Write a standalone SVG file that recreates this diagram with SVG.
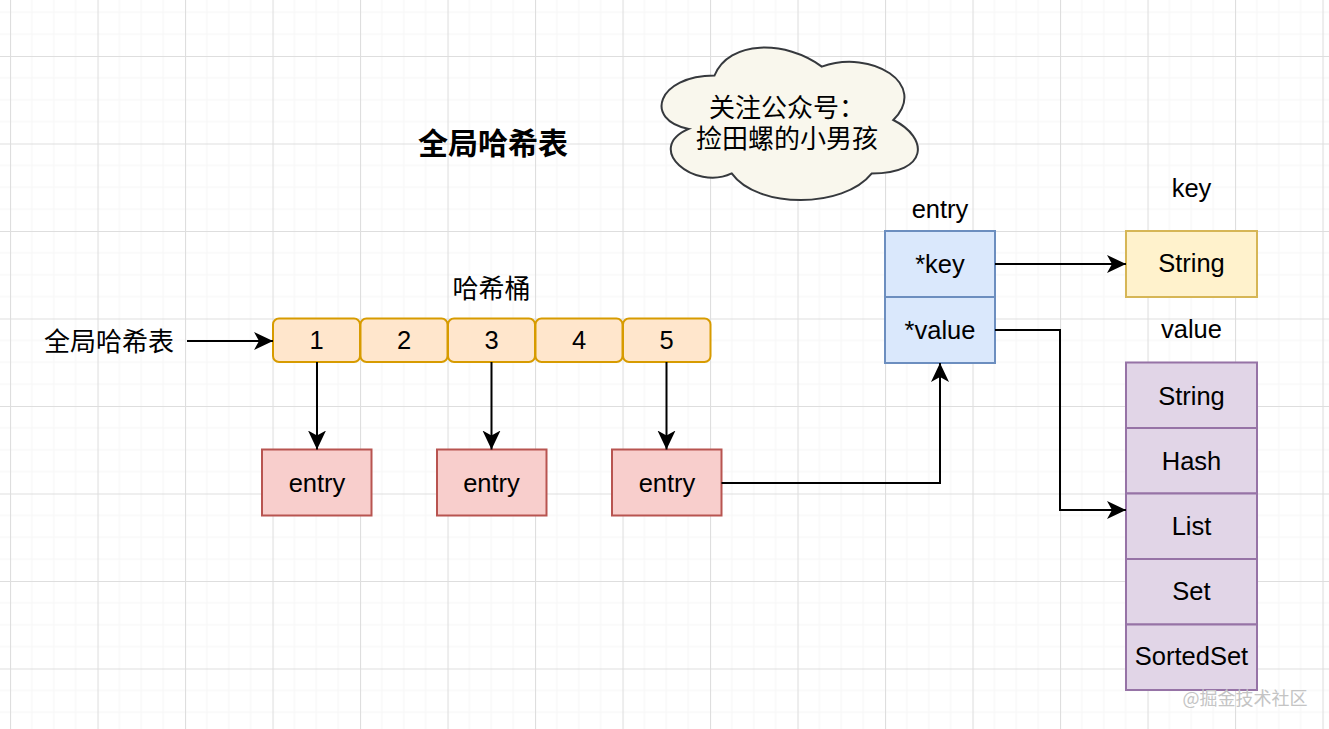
<svg xmlns="http://www.w3.org/2000/svg" width="1329" height="729" viewBox="0 0 1329 729">
<defs>
<pattern id="grid" patternUnits="userSpaceOnUse" x="10" y="56" width="87.5" height="87.5">
<path d="M21.875,0V87.5M43.75,0V87.5M65.625,0V87.5M0,21.875H87.5M0,43.75H87.5M0,65.625H87.5" stroke="#f6f6f6" stroke-width="1" fill="none"/>
<path d="M0.5,0V87.5M0,0.5H87.5" stroke="#dedede" stroke-width="1.2" fill="none"/>
</pattern>
<marker id="arr" markerUnits="userSpaceOnUse" markerWidth="20" markerHeight="20" refX="19" refY="10" orient="auto">
<path d="M0,1 L19,10 L0,19 L5,10 Z" fill="#000"/>
</marker>
<style>
.t{font-family:"Liberation Sans","Noto Sans CJK SC",sans-serif;font-size:25.5px;fill:#000;text-anchor:middle}
.c{font-family:"Noto Sans CJK SC","Liberation Sans",sans-serif;font-size:26px;fill:#000;text-anchor:middle}
.cl{font-family:"Liberation Sans","Noto Sans CJK SC",sans-serif;font-size:26px;fill:#000;text-anchor:middle}
.bucket{fill:#ffe6cc;stroke:#d79b00;stroke-width:2}
.entry{fill:#f8cecc;stroke:#b85450;stroke-width:2}
.struct{fill:#dae8fc;stroke:#6c8ebf;stroke-width:2}
.keybox{fill:#fff2cc;stroke:#d6b656;stroke-width:2}
.val{fill:#e1d5e7;stroke:#9673a6;stroke-width:2}
.edge{fill:none;stroke:#000;stroke-width:2;marker-end:url(#arr)}
</style>
</defs>
<rect width="1329" height="729" fill="#fff"/>
<rect width="1329" height="729" fill="url(#grid)"/>

<g id="title"><text class="c" x="493" y="153.5" style="font-size:30px;font-weight:bold">全局哈希表</text></g>

<g id="cloud">
<path d="M714.5,75.5 C657.3,75.5 643,120 688.8,128.9 C643,148.5 694.5,191.2 731.7,173.4 C757.4,209 843.2,209 871.8,173.4 C929,173.4 929,137.8 893.3,120 C929,84.4 871.8,48.8 821.8,66.6 C786,39.9 728.8,39.9 714.5,75.5 Z" fill="#f9f7ed" stroke="#36393d" stroke-width="2"/>
<text class="cl" x="787" y="117">关注公众号：</text>
<text class="cl" x="787" y="147.5">捡田螺的小男孩</text>
</g>

<g id="label-global"><text class="c" x="109" y="350.5">全局哈希表</text></g>
<g id="label-bucket"><text class="c" x="491.5" y="297.5">哈希桶</text></g>

<g id="bucket-1"><rect class="bucket" x="273" y="318.5" width="87" height="43.5" rx="6"/><text class="t" x="316.5" y="349">1</text></g>
<g id="bucket-2"><rect class="bucket" x="360.5" y="318.5" width="87" height="43.5" rx="6"/><text class="t" x="404" y="349">2</text></g>
<g id="bucket-3"><rect class="bucket" x="448" y="318.5" width="87" height="43.5" rx="6"/><text class="t" x="491.5" y="349">3</text></g>
<g id="bucket-4"><rect class="bucket" x="535.5" y="318.5" width="87" height="43.5" rx="6"/><text class="t" x="579" y="349">4</text></g>
<g id="bucket-5"><rect class="bucket" x="623" y="318.5" width="87.5" height="43.5" rx="6"/><text class="t" x="666.5" y="349">5</text></g>

<g id="entry-1"><rect class="entry" x="262" y="449.5" width="109.5" height="66"/><text class="t" x="317" y="492">entry</text></g>
<g id="entry-2"><rect class="entry" x="437" y="449.5" width="109.5" height="66"/><text class="t" x="491.5" y="492">entry</text></g>
<g id="entry-3"><rect class="entry" x="612" y="449.5" width="109.5" height="66"/><text class="t" x="667" y="492">entry</text></g>

<g id="entry-struct">
<text class="t" x="940" y="218">entry</text>
<rect class="struct" x="885" y="231" width="110" height="66"/>
<text class="t" x="940" y="273">*key</text>
<rect class="struct" x="885" y="297" width="110" height="66"/>
<text class="t" x="940" y="339">*value</text>
</g>

<g id="key-string">
<text class="t" x="1191.5" y="197">key</text>
<rect class="keybox" x="1126" y="231" width="131" height="66"/>
<text class="t" x="1191.5" y="272">String</text>
</g>

<g id="value-types">
<text class="t" x="1191.5" y="338">value</text>
<rect class="val" x="1126" y="362.5" width="131" height="65.5"/>
<text class="t" x="1191.5" y="405">String</text>
<rect class="val" x="1126" y="428" width="131" height="65.5"/>
<text class="t" x="1191.5" y="470">Hash</text>
<rect class="val" x="1126" y="493.5" width="131" height="65.5"/>
<text class="t" x="1191.5" y="535">List</text>
<rect class="val" x="1126" y="559" width="131" height="65.5"/>
<text class="t" x="1191.5" y="600">Set</text>
<rect class="val" x="1126" y="624.5" width="131" height="65.5"/>
<text class="t" x="1191.5" y="665">SortedSet</text>
</g>

<g id="connectors">
<path class="edge" d="M187,341 H273"/>
<path class="edge" d="M317,362 V449.5"/>
<path class="edge" d="M491.5,362 V449.5"/>
<path class="edge" d="M666.5,362 V449.5"/>
<path class="edge" d="M721.5,483 H940 V363"/>
<path class="edge" d="M995,264 H1126"/>
<path class="edge" d="M995,330 H1060 V510 H1126"/>
</g>

<g id="watermark"><text x="1245" y="705" style="font-family:'Noto Sans CJK SC','Liberation Sans',sans-serif;font-size:18px;fill:#c4c4c4;text-anchor:middle">@掘金技术社区</text></g>
</svg>
